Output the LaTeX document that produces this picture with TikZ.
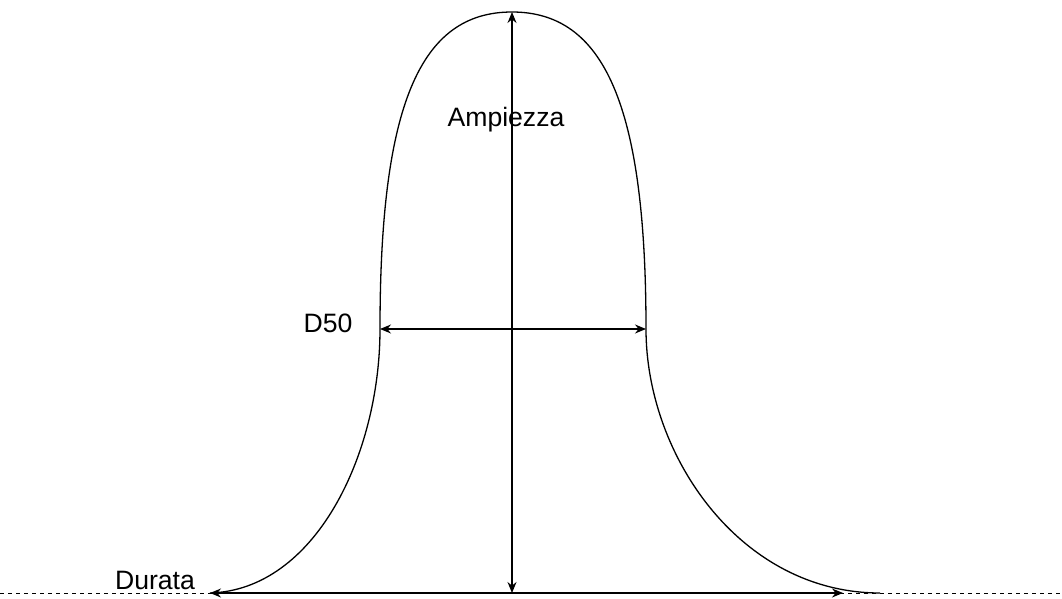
\documentclass[tikz,border=0pt]{standalone}
\usepackage{fontspec}
\setmainfont{Liberation Sans}
\usetikzlibrary{arrows.meta}

\begin{document}
\begin{tikzpicture}[x=0.5pt,y=-0.5pt, line width=0.65pt,
  dim/.style={{Stealth[length=5.5pt,width=4.5pt]}-{Stealth[length=5.5pt,width=4.5pt]}},
  lbl/.style={font=\fontsize{13.3}{16}\selectfont, anchor=base, inner sep=0pt}]
\useasboundingbox (0,0) rectangle (1062,599);

% Baseline
\draw[dash pattern=on 2pt off 2pt, line width=0.5pt] (0,593) -- (1062,593);

% Points on the curve
\coordinate (top) at (512,12);
\coordinate (foot) at (512,593);
\coordinate (d50l) at (380,329);
\coordinate (d50r) at (646,329);
\coordinate (startl) at (210,593);
\coordinate (endr) at (880,593);
\coordinate (durr) at (843,593);

% Curve
\draw (startl) .. controls (315,590) and (380,455) .. (d50l)
  .. controls (380,105) and (420,12) .. (top)
  .. controls (604,12) and (646,105) .. (d50r)
  .. controls (646,455) and (740,593) .. (endr);

% Arrows
\draw[dim] (foot) -- (top);
\draw[dim] (d50l) -- (d50r);
\draw[dim] (startl) -- (durr);

% Labels
\node[lbl] (amp) at (506,127) {Ampiezza};
\node[lbl] (dfifty) at (328,333) {D50};
\node[lbl] (dur) at (155,589) {Durata};

\end{tikzpicture}
\end{document}
